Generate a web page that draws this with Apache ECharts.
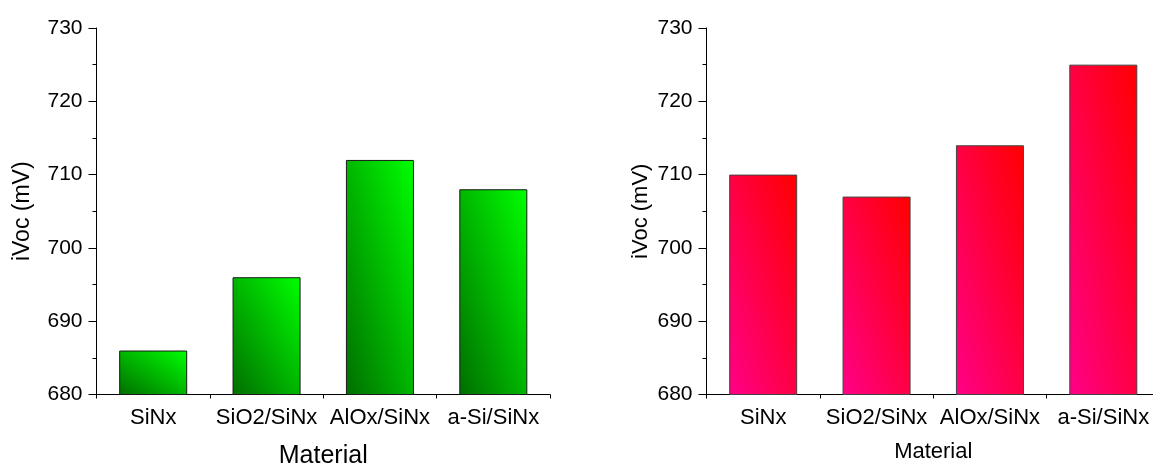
<!DOCTYPE html>
<html>
<head>
<meta charset="utf-8">
<script src="https://cdn.jsdelivr.net/npm/echarts@6/dist/echarts.min.js"></script>
<style>html,body{margin:0;padding:0;background:#fff;}#c{width:1153px;height:466px;}</style>
</head>
<body>
<div id="c"></div>
<script>
const categories = ['SiNx', 'SiO2/SiNx', 'AlOx/SiNx', 'a-Si/SiNx'];
const leftValues = [686, 696, 712, 708];
const rightValues = [710, 707, 714, 725];
const yTicks = { min: 680, max: 730, interval: 10 };

const FONT = '"Liberation Sans", Arial, sans-serif';
const GRID_H = 366.7, BAR_W = 68;

function diagGrad(val, c0, c1) {
  const h = Math.max(1, (val - yTicks.min) / (yTicks.max - yTicks.min) * GRID_H);
  const w = BAR_W, L2 = h * h + w * w;
  return { type: 'linear', x: 0, y: 1, x2: 2 * h * h / L2, y2: 1 - 2 * w * w / L2,
    colorStops: [{ offset: 0, color: c0 }, { offset: 1, color: c1 }] };
}

function xAxes(gridIndex, nameSize, nameGap) {
  return [{
    type: 'category', gridIndex, data: categories, position: 'bottom',
    name: 'Material', nameLocation: 'middle', nameGap: nameGap,
    nameTextStyle: { fontFamily: FONT, fontSize: nameSize, color: '#000' },
    axisLine: { lineStyle: { color: '#000', width: 1 } },
    axisTick: { alignWithLabel: true, length: 7, lineStyle: { color: '#000' } },
    axisLabel: { interval: 0, hideOverlap: false, fontFamily: FONT, fontSize: 22, color: '#000', margin: 12 }
  }, {
    type: 'category', gridIndex, data: categories, position: 'bottom',
    axisLine: { show: false },
    axisTick: { show: true, interval: 0, length: 4, lineStyle: { color: '#000' } },
    axisLabel: { show: false }
  }];
}
function yAxis(gridIndex, nameSize, gap) {
  return {
    type: 'value', gridIndex, min: yTicks.min, max: yTicks.max, interval: yTicks.interval,
    name: 'iVoc (mV)', nameLocation: 'middle', nameGap: gap,
    nameTextStyle: { fontFamily: FONT, fontSize: nameSize, color: '#000' },
    axisLine: { show: true, lineStyle: { color: '#000', width: 1 } },
    axisTick: { show: true, length: 8, lineStyle: { color: '#000' } },
    minorTick: { show: true, splitNumber: 2, length: 4, lineStyle: { color: '#000' } },
    splitLine: { show: false },
    axisLabel: { fontFamily: FONT, fontSize: 21, color: '#000', margin: 14 }
  };
}

const chart = echarts.init(document.getElementById('c'));
chart.setOption({
  animation: false,
  grid: [
    { left: 96.5, top: 28, right: 603, bottom: 71.5, outerBoundsMode: 'none', containLabel: false },
    { left: 706.5, top: 28, right: -7, bottom: 71.5, outerBoundsMode: 'none', containLabel: false }
  ],
  xAxis: [...xAxes(0, 25, 49), ...xAxes(1, 22, 46)],
  yAxis: [yAxis(0, 23, 62), yAxis(1, 22, 55)],
  series: [{
    type: 'bar', xAxisIndex: 0, yAxisIndex: 0, data: leftValues, barWidth: '60%',
    itemStyle: { color: p => diagGrad(p.value, '#006e00', '#00ff00'), borderColor: '#1a1a1a', borderWidth: 1 }
  }, {
    type: 'bar', xAxisIndex: 2, yAxisIndex: 1, data: rightValues, barWidth: '60%',
    itemStyle: { color: p => diagGrad(p.value, '#ff0088', '#ff0000'), borderColor: '#444', borderWidth: 1 }
  }]
});
</script>
</body>
</html>
